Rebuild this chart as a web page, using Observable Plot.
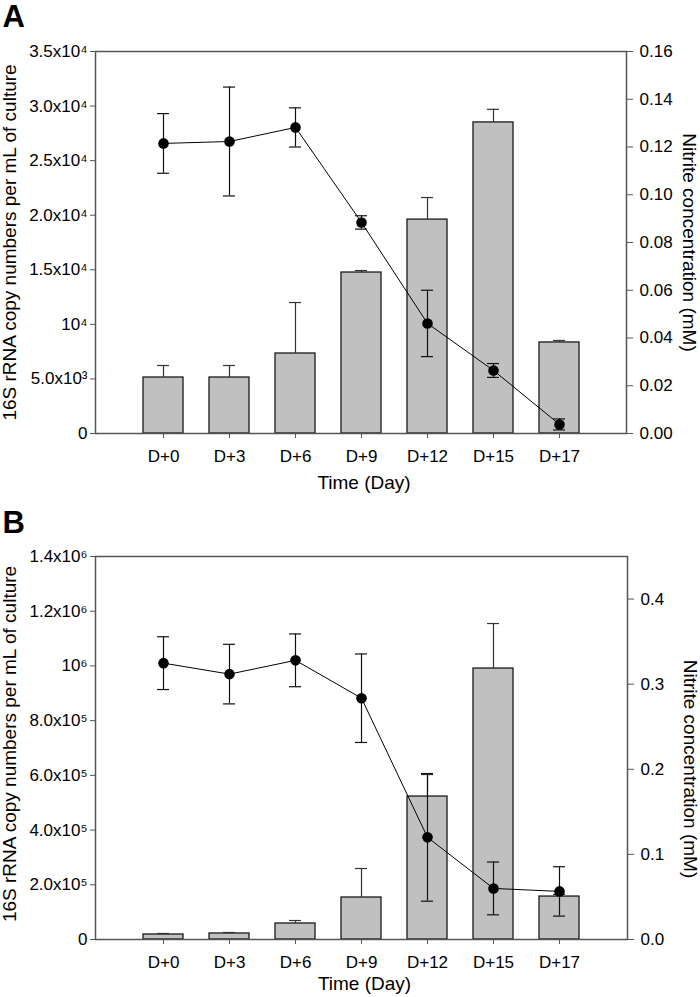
<!DOCTYPE html>
<html><head><meta charset="utf-8">
<script src="https://cdn.jsdelivr.net/npm/d3@7"></script>
<script src="https://cdn.jsdelivr.net/npm/@observablehq/plot@0.6"></script>
<style>body{margin:0;background:#fff;font-family:"Liberation Sans",Arial,sans-serif}</style>
</head><body><div id="chart"></div>
<script>
const days = ["D+0","D+3","D+6","D+9","D+12","D+15","D+17"];

// Panel A
const copiesA = [5130, 5130, 7330, 14750, 19600, 28500, 8340];
const copiesErrA = [1100, 1100, 4670, 180, 2020, 1200, 180];
const nitriteA = [0.1215, 0.1223, 0.1282, 0.0884, 0.0461, 0.0264, 0.0038];
const nitriteErrA = [0.0125, 0.0228, 0.0082, 0.0028, 0.0139, 0.0029, 0.0023];
const leftTicksA = [0, 5000, 10000, 15000, 20000, 25000, 30000, 35000];
const leftLabelsA = ["0", "5.0x10³", "10⁴", "1.5x10⁴", "2.0x10⁴", "2.5x10⁴", "3.0x10⁴", "3.5x10⁴"];
const rightTicksA = [0, 0.02, 0.04, 0.06, 0.08, 0.10, 0.12, 0.14, 0.16];
const rightLabelsA = ["0.00", "0.02", "0.04", "0.06", "0.08", "0.10", "0.12", "0.14", "0.16"];

// Panel B
const copiesB = [18300, 22000, 58500, 153500, 522600, 990500, 157000];
const copiesErrB = [3700, 3600, 10900, 106000, 80400, 164500, 8000];
const nitriteB = [0.3247, 0.3118, 0.328, 0.2835, 0.120, 0.060, 0.0565];
const nitriteErrB = [0.031, 0.035, 0.031, 0.052, 0.075, 0.031, 0.029];
const leftTicksB = [0, 200000, 400000, 600000, 800000, 1000000, 1200000, 1400000];
const leftLabelsB = ["0", "2.0x10⁵", "4.0x10⁵", "6.0x10⁵", "8.0x10⁵", "10⁶", "1.2x10⁶", "1.4x10⁶"];
const rightTicksB = [0, 0.1, 0.2, 0.3, 0.4];
const rightLabelsB = ["0.0", "0.1", "0.2", "0.3", "0.4"];

const yLabel = "16S rRNA copy numbers per mL of culture";
const y2Label = "Nitrite concentration (mM)";
const xLabel = "Time (Day)";
const FONT = "'Liberation Sans', Arial, sans-serif";

function panel(o) {
  const k = o.leftMax / o.rightMax;
  const rows = days.map((d, i) => ({
    day: d,
    c: o.copies[i],
    cHi: o.copies[i] + o.copiesErr[i],
    n: o.nitrite[i] * k,
    nLo: (o.nitrite[i] - o.nitriteErr[i]) * k,
    nHi: (o.nitrite[i] + o.nitriteErr[i]) * k
  }));
  const leftMap = new Map(o.leftTicks.map((t, i) => [t, o.leftLabels[i]]));
  const rTicks = o.rightTicks.map(t => t * k);
  const rightMap = new Map(rTicks.map((t, i) => [t, o.rightLabels[i]]));
  const capInset = 14;
  return Plot.plot({
    width: 700, height: o.height,
    marginTop: o.marginTop, marginBottom: o.marginBottom, marginLeft: 95, marginRight: o.marginRight,
    style: {fontFamily: FONT, fontSize: "17px", color: "#000", background: "#fff", overflow: "visible"},
    x: {type: "band", domain: days, paddingInner: 0.4, paddingOuter: 0.7},
    y: {domain: [0, o.leftMax]},
    marks: [
      Plot.barY(rows, {x: "day", y: "c", fill: "#c0c0c0", stroke: "#1a1a1a", strokeWidth: 1.3}),
      Plot.ruleX(rows, {x: "day", y1: "c", y2: "cHi", stroke: "#333", strokeWidth: 1.2}),
      Plot.tickY(rows, {x: "day", y: "cHi", insetLeft: capInset, insetRight: capInset, stroke: "#333", strokeWidth: 1.2}),
      Plot.frame({stroke: "#555", strokeWidth: 1.5}),
      Plot.line(rows, {x: "day", y: "n", stroke: "#000", strokeWidth: 1}),
      Plot.ruleX(rows, {x: "day", y1: "nLo", y2: "nHi", stroke: "#111", strokeWidth: 1.2}),
      Plot.tickY(rows, {x: "day", y: "nLo", insetLeft: capInset, insetRight: capInset, stroke: "#111", strokeWidth: 1.2}),
      Plot.tickY(rows, {x: "day", y: "nHi", insetLeft: capInset, insetRight: capInset, stroke: "#111", strokeWidth: 1.2}),
      Plot.dot(rows, {x: "day", y: "n", r: 5.3, fill: "#000", stroke: null}),
      Plot.axisX({tickSize: 5, tickPadding: 11, label: null, fontSize: 17, stroke: "#555"}),
      Plot.axisY(o.leftTicks, {anchor: "left", tickSize: 5, tickPadding: 3, tickFormat: d => leftMap.get(d), label: null, fontSize: 17, stroke: "#555"}),
      Plot.axisY(rTicks, {anchor: "right", tickSize: 6, tickPadding: 7, tickFormat: d => rightMap.get(d), label: null, fontSize: 17, stroke: "#555"}),
      Plot.text([o.letter], {frameAnchor: "top-left", dx: -93, dy: o.letterDy, lineAnchor: "top", textAnchor: "start", fontSize: 31, fontWeight: "bold"}),
      Plot.text([yLabel], {frameAnchor: "left", dx: -86, dy: o.yLabelDy, rotate: -90, textAnchor: "middle", lineAnchor: "middle", fontSize: 19}),
      Plot.text([y2Label], {frameAnchor: "right", dx: 63, dy: o.y2LabelDy, rotate: 90, textAnchor: "middle", lineAnchor: "middle", fontSize: 19}),
      Plot.text([xLabel], {frameAnchor: "bottom", dx: 3, dy: o.xLabelDy, textAnchor: "middle", lineAnchor: "middle", fontSize: 19})
    ]
  });
}

const chart = document.getElementById("chart");
chart.append(panel({
  letter: "A", copies: copiesA, copiesErr: copiesErrA, nitrite: nitriteA, nitriteErr: nitriteErrA,
  leftMax: 35000, leftTicks: leftTicksA, leftLabels: leftLabelsA,
  rightMax: 0.16, rightTicks: rightTicksA, rightLabels: rightLabelsA,
  height: 490, marginTop: 51, marginBottom: 57, marginRight: 74,
  letterDy: -47, yLabelDy: 0, y2LabelDy: 0, xLabelDy: 49
}));
chart.append(panel({
  letter: "B", copies: copiesB, copiesErr: copiesErrB, nitrite: nitriteB, nitriteErr: nitriteErrB,
  leftMax: 1400000, leftTicks: leftTicksB, leftLabels: leftLabelsB,
  rightMax: 0.45, rightTicks: rightTicksB, rightLabels: rightLabelsB,
  height: 507, marginTop: 66, marginBottom: 58, marginRight: 73,
  letterDy: -46, yLabelDy: -4, y2LabelDy: 21, xLabelDy: 44
}));
</script></body></html>
